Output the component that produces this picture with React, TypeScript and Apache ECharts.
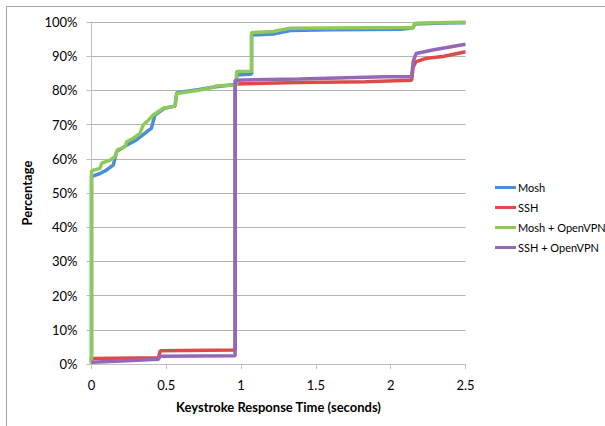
import React, { useEffect, useRef } from "react";
import * as echarts from "echarts";

const seriesNames = ["Mosh", "SSH", "Mosh + OpenVPN", "SSH + OpenVPN"];
const seriesColors = ["#4a8fd6", "#dc4b48", "#8fc95a", "#9467b8"];

const xTicks = [0, 0.5, 1, 1.5, 2, 2.5];
const yTicks = [0, 10, 20, 30, 40, 50, 60, 70, 80, 90, 100];

const mosh: number[][] = [
  [0, 0], [0, 54.8], [0.057, 55.7], [0.1, 56.7], [0.146, 58.2], [0.168, 62.1],
  [0.235, 64], [0.3, 65.5], [0.369, 67.9], [0.4, 68.9], [0.424, 72.8], [0.49, 74.8],
  [0.558, 75.4], [0.57, 79.3], [0.72, 80.3], [0.82, 81], [0.97, 81.8], [0.97, 84.5],
  [1.07, 84.8], [1.07, 96.2], [1.215, 96.5], [1.33, 97.5], [1.6, 97.7], [2.07, 97.9],
  [2.15, 98.3], [2.16, 99.4], [2.35, 99.7], [2.5, 99.8],
];

const ssh: number[][] = [
  [0, 0.8], [0, 1.6], [0.447, 1.8], [0.46, 3.9], [0.96, 4.1], [0.96, 81.9],
  [1.39, 82.3], [1.83, 82.5], [2.14, 83], [2.15, 86.9], [2.17, 88.4], [2.24, 89.4],
  [2.35, 89.9], [2.5, 91.3],
];

const moshVpn: number[][] = [
  [0, 0], [0, 56.5], [0.057, 57.2], [0.068, 58.7], [0.124, 59.6], [0.157, 60.6],
  [0.173, 62.6], [0.224, 63.5], [0.235, 65], [0.28, 66], [0.324, 67.4], [0.346, 69.9],
  [0.369, 70.8], [0.413, 72.8], [0.48, 74.8], [0.558, 75.4], [0.57, 79.1], [0.725, 80.1],
  [0.82, 80.9], [0.83, 81.3], [0.97, 81.6], [0.97, 85.5], [1.07, 85.6], [1.07, 96.9],
  [1.215, 97.2], [1.327, 98.2], [2.15, 98.4], [2.16, 99.6], [2.5, 100],
];

const sshVpn: number[][] = [
  [0, 0.5], [0.2, 0.9], [0.447, 1.4], [0.46, 2.3], [0.96, 2.4], [0.96, 83],
  [1.39, 83.3], [1.96, 84], [2.14, 84], [2.15, 88.4], [2.17, 90.8], [2.28, 91.8],
  [2.5, 93.5],
];

const seriesData = [mosh, ssh, moshVpn, sshVpn];

const FONT = "Lato, 'Open Sans', sans-serif";

export default function App() {
  const ref = useRef<HTMLDivElement>(null);
  useEffect(() => {
    if (!ref.current) return;
    const chart = echarts.init(ref.current, null, { renderer: "svg" });
    chart.setOption({
      animation: false,
      backgroundColor: "#ffffff",
      textStyle: { fontFamily: FONT },
      graphic: [
        {
          type: "rect",
          shape: { x: 6.5, y: 6.5, width: 700, height: 500 },
          style: { fill: "none", stroke: "#a6a6a6", lineWidth: 1 },
          silent: true,
        },
      ],
      grid: { left: 91.5, right: 139.5, top: 22, bottom: 62 },
      legend: {
        orient: "vertical",
        left: 490,
        top: 176,
        itemWidth: 21,
        itemHeight: 3,
        itemGap: 7,
        icon: "rect",
        data: seriesNames,
        textStyle: { fontFamily: FONT, fontSize: 11, color: "#000", lineHeight: 13, padding: [0, 0, 0, -3] },
      },
      xAxis: {
        type: "value",
        min: 0,
        max: 2.5,
        interval: 0.5,
        name: "Keystroke Response Time (seconds)",
        nameLocation: "middle",
        nameGap: 36,
        nameTextStyle: { fontFamily: FONT, fontSize: 13, fontWeight: "bold", color: "#000" },
        axisLine: { show: true, lineStyle: { color: "#bfbfbf", width: 1 } },
        axisTick: { show: true, length: 5, lineStyle: { color: "#bfbfbf" } },
        axisLabel: {
          margin: 14,
          fontFamily: FONT,
          fontSize: 13,
          color: "#000",
          formatter: (v: number) => (xTicks.includes(v) ? String(v) : ""),
        },
        splitLine: { show: false },
      },
      yAxis: {
        type: "value",
        min: 0,
        max: 100,
        interval: 10,
        name: "Percentage",
        nameLocation: "middle",
        nameGap: 50,
        nameTextStyle: { fontFamily: FONT, fontSize: 13, fontWeight: "bold", color: "#000" },
        axisLine: { show: true, lineStyle: { color: "#bfbfbf", width: 1 } },
        axisTick: { show: true, length: 5, lineStyle: { color: "#bfbfbf" } },
        axisLabel: {
          margin: 14,
          fontFamily: FONT,
          fontSize: 13,
          color: "#000",
          formatter: (v: number) => (yTicks.includes(v) ? v + "%" : ""),
        },
        splitLine: { show: true, lineStyle: { color: "#b3b3b3", width: 1 } },
      },
      series: seriesNames.map((name, i) => ({
        name,
        type: "line",
        data: seriesData[i],
        symbol: "none",
        showSymbol: false,
        smooth: false,
        lineStyle: { color: seriesColors[i], width: 3.5 },
        itemStyle: { color: seriesColors[i] },
        z: 2 + i,
      })),
    });
    return () => chart.dispose();
  }, []);
  return (
    <div
      ref={ref}
      style={{ position: "absolute", left: 0, top: 0, width: 605, height: 426 }}
    />
  );
}
